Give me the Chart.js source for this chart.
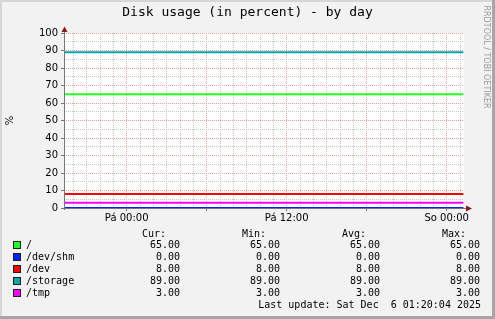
<!DOCTYPE html>
<html>
<head>
  <title>Disk usage (in percent) - by day</title>
  <script src="https://cdnjs.cloudflare.com/ajax/libs/Chart.js/4.4.1/chart.umd.min.js"></script>
  <style>
    body { margin: 0; background: #f2f2f2; }
    canvas { display: block; }
  </style>
</head>
<body>
  <canvas id="disk-chart" width="495" height="319"></canvas>
  <script>
    // hours since Thu 00:00
    var sampleHours = [19.3, 49.25];
    var seriesNames = ['/', '/dev/shm', '/dev', '/storage', '/tmp'];
    var seriesColors = ['#22ff22', '#0022ff', '#ff0000', '#00a8a8', '#ff00ff'];
    var rootValues = [65, 65];
    var devShmValues = [0, 0];
    var devValues = [8, 8];
    var storageValues = [89, 89];
    var tmpValues = [3, 3];
    var timeTicks = [24, 36, 48];
    var timeLabels = ['Pá 00:00', 'Pá 12:00', 'So 00:00'];
    var yTicks = [0, 5, 10, 15, 20, 25, 30, 35, 40, 45, 50, 55, 60, 65, 70, 75, 80, 85, 90, 95, 100];
    var lastUpdate = 'Last update: Sat Dec  6 01:20:04 2025';

    var allValues = [rootValues, devShmValues, devValues, storageValues, tmpValues];

    var mono = '"DejaVu Sans Mono", monospace';
    var sans = '"DejaVu Sans", sans-serif';

    function points(vals) {
      return vals.map(function (v, i) { return { x: sampleHours[i], y: v }; });
    }

    var datasets = seriesNames.map(function (name, i) {
      return {
        label: name,
        data: points(allValues[i]),
        borderColor: seriesColors[i],
        borderWidth: 2,
        pointRadius: 0,
        tension: 0,
        clip: false
      };
    });

    var rrdLook = {
      id: 'rrdLook',
      beforeDraw: function (chart) {
        var c = chart.ctx, a = chart.chartArea;
        c.save();
        c.fillStyle = '#f2f2f2';
        c.fillRect(0, 0, 495, 319);
        c.fillStyle = '#d6d6d6';
        c.fillRect(0, 0, 495, 2);
        c.fillRect(0, 0, 2, 319);
        c.fillStyle = '#a6a6a6';
        c.fillRect(492, 0, 3, 319);
        c.fillRect(0, 316, 495, 3);
        c.fillStyle = '#ffffff';
        c.fillRect(a.left, a.top, a.right - a.left, a.bottom - a.top);
        c.restore();
      },
      afterDatasetsDraw: function (chart) {
        var c = chart.ctx, a = chart.chartArea;
        c.save();
        // axes on top of the lines, like rrdtool
        c.strokeStyle = '#777777';
        c.lineWidth = 1;
        c.beginPath();
        c.moveTo(a.left + 0.5, a.bottom + 2);
        c.lineTo(a.left + 0.5, a.top - 2);
        c.moveTo(a.left - 2, a.bottom + 0.5);
        c.lineTo(a.right + 2, a.bottom + 0.5);
        c.stroke();
        c.fillStyle = '#8b1a1a';
        c.beginPath();
        c.moveTo(a.left + 0.5, a.top - 6.5);
        c.lineTo(a.left - 2.5, a.top - 1);
        c.lineTo(a.left + 3.5, a.top - 1);
        c.closePath();
        c.fill();
        c.beginPath();
        c.moveTo(a.right + 8, a.bottom + 0.5);
        c.lineTo(a.right + 2, a.bottom - 2.5);
        c.lineTo(a.right + 2, a.bottom + 3.5);
        c.closePath();
        c.fill();
        c.restore();
      },
      afterDraw: function (chart) {
        var c = chart.ctx;
        c.save();
        c.fillStyle = '#000000';
        c.font = '13px ' + mono;
        c.textAlign = 'center';
        c.textBaseline = 'middle';
        c.fillText('Disk usage (in percent) - by day', 247.5, 13);

        // watermark
        c.save();
        c.translate(486, 57);
        c.rotate(Math.PI / 2);
        c.fillStyle = '#999999';
        c.font = '8px ' + sans;
        c.fillText('RRDTOOL / TOBI OETIKER', 0, 0);
        c.restore();

        // legend table
        c.font = '10px ' + mono;
        c.textAlign = 'right';
        var heads = ['Cur:', 'Min:', 'Avg:', 'Max:'];
        var headX = [166, 266, 366, 466];
        var valX = [180, 280, 380, 480];
        heads.forEach(function (h, j) { c.fillText(h, headX[j], 234); });
        seriesNames.forEach(function (name, i) {
          var y = 245.5 + 12 * i;
          var vals = allValues[i];
          var sum = vals.reduce(function (s, v) { return s + v; }, 0);
          var stats = [vals[vals.length - 1], Math.min.apply(null, vals), sum / vals.length, Math.max.apply(null, vals)];
          c.fillStyle = seriesColors[i];
          c.fillRect(13.5, y - 4, 7, 7);
          c.strokeStyle = '#202020';
          c.lineWidth = 1;
          c.strokeRect(13.5, y - 4, 7, 7);
          c.fillStyle = '#000000';
          c.textAlign = 'left';
          c.fillText(name, 26, y);
          c.textAlign = 'right';
          stats.forEach(function (v, j) { c.fillText(v.toFixed(2), valX[j], y); });
        });
        c.fillText(lastUpdate, 481, 305.5);
        c.restore();
      }
    };

    new Chart(document.getElementById('disk-chart').getContext('2d'), {
      type: 'line',
      data: { datasets: datasets },
      options: {
        responsive: false,
        animation: false,
        layout: { padding: { left: 0, right: 31, top: 33, bottom: 0 } },
        plugins: { legend: { display: false }, tooltip: { enabled: false } },
        scales: {
          x: {
            type: 'linear',
            min: sampleHours[0],
            max: 49.3,
            afterFit: function (s) { s.height = 111; },
            afterBuildTicks: function (s) {
              var t = [];
              for (var h = 20; h <= 49; h++) t.push({ value: h });
              s.ticks = t;
            },
            ticks: {
              autoSkip: false,
              maxRotation: 0,
              padding: 1,
              color: '#000000',
              font: { family: sans, size: 10 },
              callback: function (v) {
                var k = timeTicks.indexOf(v);
                return k >= 0 ? timeLabels[k] : '';
              }
            },
            grid: {
              color: function (ctx) { return ctx.tick && ctx.tick.value % 6 === 0 ? '#f2a0a0' : '#c6c6c6'; },
              tickColor: function (ctx) { return ctx.tick && ctx.tick.value % 6 === 0 ? '#777777' : 'rgba(0,0,0,0)'; },
              tickLength: 3
            },
            border: { display: false, dash: [1, 1] }
          },
          y: {
            min: 0,
            max: 100,
            afterFit: function (s) { s.width = 64; },
            afterBuildTicks: function (s) {
              s.ticks = yTicks.map(function (v) { return { value: v }; });
            },
            title: {
              display: true,
              text: '%',
              color: '#000000',
              font: { family: sans, size: 10 },
              padding: { top: 4, bottom: 0 }
            },
            ticks: {
              autoSkip: false,
              padding: 3,
              color: '#000000',
              font: { family: sans, size: 10 },
              callback: function (v) { return v % 10 === 0 ? String(v) : ''; }
            },
            grid: {
              color: function (ctx) { return ctx.tick && ctx.tick.value % 10 === 0 ? '#f2a0a0' : '#c6c6c6'; },
              tickColor: function (ctx) { return ctx.tick && ctx.tick.value % 10 === 0 ? '#777777' : 'rgba(0,0,0,0)'; },
              tickLength: 3
            },
            border: { display: false, dash: [1, 1] }
          }
        }
      },
      plugins: [rrdLook]
    });
  </script>
</body>
</html>
